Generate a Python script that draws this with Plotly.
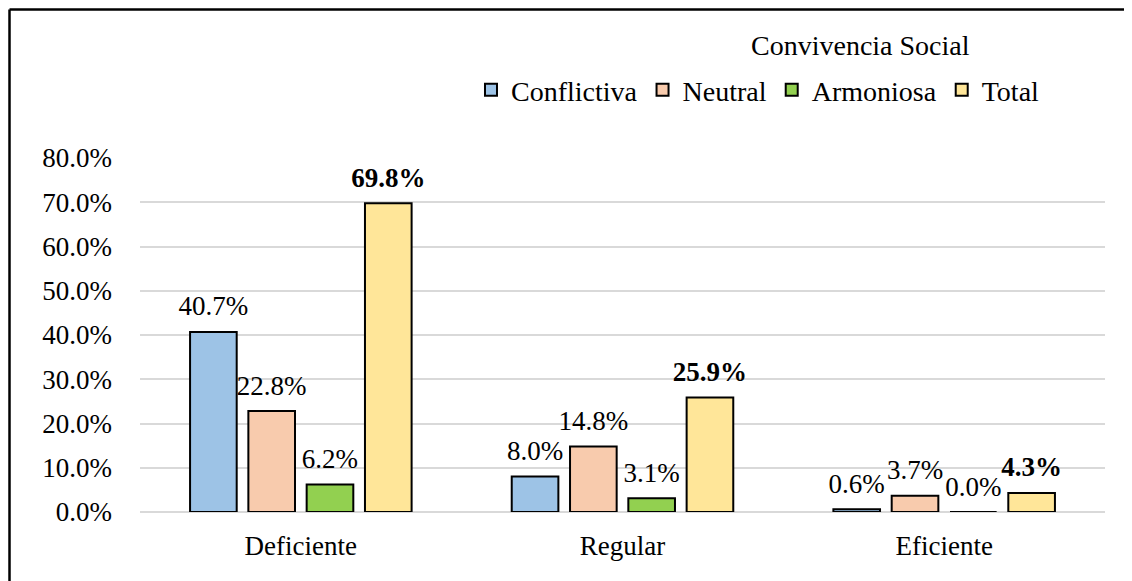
import plotly.graph_objects as go

categories = ["Deficiente", "Regular", "Eficiente"]
series_names = ["Conflictiva", "Neutral", "Armoniosa", "Total"]
conflictiva = [0.407, 0.080, 0.006]
neutral = [0.228, 0.148, 0.037]
armoniosa = [0.062, 0.031, 0.000]
total = [0.698, 0.259, 0.043]
y_ticks = [0, 0.1, 0.2, 0.3, 0.4, 0.5, 0.6, 0.7, 0.8]

colors = ["#9DC3E6", "#F8CBAD", "#92D050", "#FFE699"]
FONT = "Liberation Serif, Times New Roman, serif"
FS = 27

fig = go.Figure()
all_series = [conflictiva, neutral, armoniosa, total]
for name, vals, color in zip(series_names, all_series, colors):
    fig.add_trace(go.Bar(
        x=categories, y=vals, name=name,
        marker=dict(color=color, line=dict(color="black", width=2)),
    ))

# data labels: invisible markers grouped like the bars, text sits above them
for name, vals in zip(series_names, all_series):
    if name == "Total":
        labels = ["<b>%.1f%%</b>" % (v * 100) for v in vals]
    else:
        labels = ["%.1f%%" % (v * 100) for v in vals]
    fig.add_trace(go.Scatter(
        x=categories, y=vals, mode="markers+text", text=labels,
        textposition="top center", showlegend=False, hoverinfo="skip",
        marker=dict(size=14, opacity=0), cliponaxis=False,
        textfont=dict(family=FONT, size=FS, color="black"),
    ))

# page body has an 8px margin, so the figure is sized to fit the window
fig.update_layout(
    width=1124, height=573,
    paper_bgcolor="white", plot_bgcolor="white",
    font=dict(family=FONT, size=FS, color="black"),
    barmode="group", bargap=0.275, bargroupgap=0.2,
    scattermode="group", scattergap=0.275,
    margin=dict(l=132, r=27, t=150, b=69),
    legend=dict(
        orientation="h", x=0.343, y=1.192, xanchor="left", yanchor="middle",
        font=dict(size=28), itemwidth=30, bgcolor="rgba(0,0,0,0)",
    ),
    showlegend=True,
)
fig.add_annotation(text="Convivencia Social", xref="paper", yref="paper",
                   x=(852 - 132) / 965, y=(504 - 37) / 354, showarrow=False,
                   xanchor="center", yanchor="middle", font=dict(size=28))
fig.update_yaxes(
    range=[0, 0.8], tickvals=y_ticks, tickformat=".1%",
    showgrid=True, gridcolor="#D9D9D9", gridwidth=1.5,
    zeroline=True, zerolinecolor="#D9D9D9", zerolinewidth=1.5,
    showline=False, ticks="", ticklabelstandoff=27,
)
fig.update_xaxes(showline=False, ticks="", ticklabelstandoff=15)

# outer chart border (left and top edges visible in the reference)
top = (504 - 1.5) / 354
left = -130.5 / 965
fig.add_shape(type="line", xref="paper", yref="paper", x0=left, x1=1.2, y0=top, y1=top,
              line=dict(color="black", width=2.5))
fig.add_shape(type="line", xref="paper", yref="paper", x0=left, x1=left, y0=-0.3, y1=top,
              line=dict(color="black", width=2.5))

fig.write_html("out.html", config={"displayModeBar": False})
